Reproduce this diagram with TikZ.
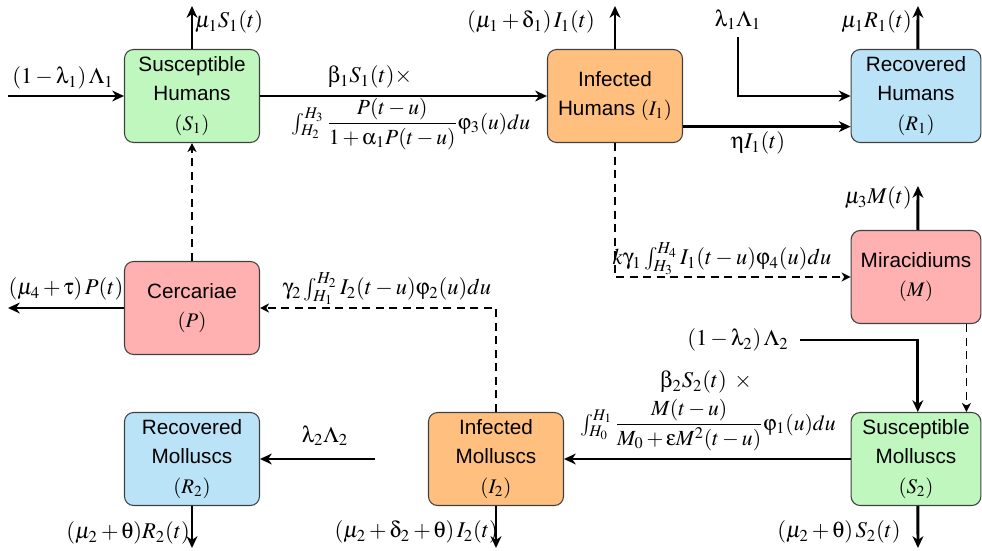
\documentclass[tikz,border=0pt]{standalone}
\usepackage{amsmath}
\usepackage{mathptmx}
\usepackage[Symbol]{upgreek}
\usepackage[no-math]{fontspec}
\setsansfont{Liberation Sans}
\usetikzlibrary{arrows.meta}
\newcommand\lambdaup{\uplambda}
\newcommand\betaup{\upbeta}
\newcommand\alphaup{\upalpha}
\newcommand\varphiup{\upvarphi}
\newcommand\deltaup{\updelta}
\newcommand\etaup{\upeta}
\newcommand\gammaup{\upgamma}
\newcommand\varepsilonup{\upvarepsilon}
\newcommand\thetaup{\uptheta}
\newcommand\tauup{\uptau}
\definecolor{cgreen}{RGB}{191,247,191}
\definecolor{corange}{RGB}{255,191,127}
\definecolor{cblue}{RGB}{187,227,247}
\definecolor{cpink}{RGB}{255,177,177}
\tikzset{
  comp/.style={draw=black!75, line width=0.6pt, rounded corners=5pt, align=center,
    minimum width=74.9pt, minimum height=51.6pt, inner sep=0pt,
    font=\sffamily\fontsize{11.5pt}{16.4pt}\selectfont},
  compr/.style={comp, minimum width=72pt},
  lbl/.style={inner sep=1pt, font=\fontsize{12.5pt}{14pt}\selectfont},
  flbl/.style={inner sep=1pt, font=\fontsize{12pt}{14pt}\selectfont},
  arr/.style={line width=1.6pt, -{Stealth[length=6.5pt,width=6pt,inset=2pt]}},
  dasharr/.style={line width=0.9pt, dash pattern=on 4.5pt off 3pt, -{Stealth[length=5pt,width=5pt,inset=1.5pt]}}
}
\begin{document}
\begin{tikzpicture}[x=0.555pt,y=-0.555pt]
\useasboundingbox (0,0) rectangle (982,551);
% boxes
\node[comp, fill=cgreen] (S1) at (192,96) {Susceptible\\Humans\\$(S_1)$};
\node[comp, fill=corange] (I1) at (615,96) {Infected\\Humans $(I_1)$};
\node[compr, fill=cblue] (R1) at (916,96) {Recovered\\Humans\\$(R_1)$};
\node[compr, fill=cpink] (M) at (916,277) {Miracidiums\\$(M)$};
\node[comp, fill=cpink] (P) at (192,308) {Cercariae\\$(P)$};
\node[comp, fill=cblue] (R2) at (192,459) {Recovered\\Molluscs\\$(R_2)$};
\node[comp, fill=corange] (I2) at (496,459) {Infected\\Molluscs\\$(I_2)$};
\node[compr, fill=cgreen] (S2) at (916,459) {Susceptible\\Molluscs\\$(S_2)$};
% free ends
\coordinate (inS1) at (8,96);
\coordinate (outS1) at (192,6);
\coordinate (outI1) at (615,6);
\coordinate (inR1) at (738,37);
\coordinate (outR1) at (918,6);
\coordinate (outM) at (918,186);
\coordinate (inS2) at (800,340);
\coordinate (outS2) at (918,548);
\coordinate (outI2) at (496,548);
\coordinate (outR2) at (192,548);
\coordinate (outP) at (8,308);
\coordinate (inR2) at (375,459);
% solid connectors
\draw[arr] (inS1) -- (S1.west);
\draw[arr] (S1.north) -- (outS1);
\draw[arr] (S1.east) -- (I1.west);
\draw[arr] (I1.north) -- (outI1);
\draw[arr] (inR1) |- (R1.west);
\draw[arr] ([yshift=-17pt]I1.east) -- ([yshift=-17pt]R1.west);
\draw[arr] ([xshift=1pt]R1.north) -- (outR1);
\draw[arr] ([xshift=1pt]M.north) -- (outM);
\draw[arr] (inS2) -| ([xshift=1pt]S2.north);
\draw[arr] (S2.west) -- (I2.east);
\draw[arr] ([xshift=1pt]S2.south) -- (outS2);
\draw[arr] (I2.south) -- (outI2);
\draw[arr] (R2.south) -- (outR2);
\draw[arr] (P.west) -- (outP);
\draw[arr] (inR2) -- (R2.east);
% dashed connectors
\draw[dasharr] (I1.south) |- (M.west);
\draw[dasharr] ([xshift=28pt]M.south) -- ([xshift=28pt]S2.north);
\draw[dasharr] (I2.north) |- (P.east);
\draw[dasharr] (P.north) -- (S1.south);
% labels
\node[lbl] (l1) at (63,78) {$(1-\lambdaup_1)\,\Lambda_1$};
\node[lbl, anchor=west] (l2) at (193,22) {$\mu_1S_1(t)$};
\node[lbl] (l3) at (370,77) {$\betaup_1S_1(t)\times$};
\node[flbl] (l4) at (411,124) {$\int_{H_2}^{H_3}\dfrac{P(t-u)}{1+\alphaup_1P(t-u)}\varphiup_3(u)du$};
\node[lbl] (l5) at (531,22) {$(\mu_1+\deltaup_1)\,I_1(t)$};
\node[lbl] (l6) at (738,20) {$\lambdaup_1\Lambda_1$};
\node[lbl, anchor=east] (l7) at (914,22) {$\mu_1R_1(t)$};
\node[lbl] (l8) at (758,143) {$\etaup I_1(t)$};
\node[lbl, anchor=east] (l9) at (914,198) {$\mu_3M(t)$};
\node[lbl] (l10) at (722,259) {$k\gammaup_1\int_{H_3}^{H_4}I_1(t-u)\varphiup_4(u)du$};
\node[lbl] (l11) at (738,340) {$(1-\lambdaup_2)\,\Lambda_2$};
\node[lbl] (l12) at (706,382) {$\betaup_2S_2(t)\ \times$};
\node[flbl] (l13) at (708,425) {$\int_{H_0}^{H_1}\dfrac{M(t-u)}{M_0+\varepsilonup M^2(t-u)}\varphiup_1(u)du$};
\node[lbl] (l14) at (839,532) {$(\mu_2+\thetaup)\,S_2(t)$};
\node[lbl, anchor=east] (l15) at (500,532) {$(\mu_2+\deltaup_2+\thetaup)\,I_2(t)$};
\node[lbl] (l16) at (387,289) {$\gammaup_2\int_{H_1}^{H_2}I_2(t-u)\varphiup_2(u)du$};
\node[lbl] (l17) at (66,289) {$(\mu_4+\tauup)\,P(t)$};
\node[lbl] (l18) at (325,436) {$\lambdaup_2\Lambda_2$};
\node[lbl, anchor=east] (l19) at (192,533) {$(\mu_2+\thetaup)R_2(t)$};
\end{tikzpicture}
\end{document}
